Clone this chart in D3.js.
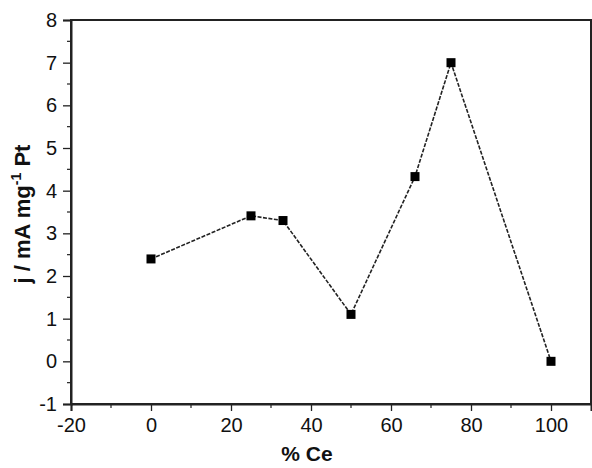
<!DOCTYPE html>
<html><head><meta charset="utf-8">
<script src="https://cdn.jsdelivr.net/npm/d3@7"></script>
<style>body{margin:0;background:#fff}svg{display:block}text{font-family:Arial,"Liberation Sans",sans-serif;fill:#111}</style>
</head><body>
<svg id="c" width="592" height="468"></svg>
<script>
const ceContent = [0, 25, 33, 50, 66, 75, 100];
const currentDensity = [2.4, 3.41, 3.3, 1.1, 4.33, 7.0, 0.0];
const xTicks = [-20, 0, 20, 40, 60, 80, 100];
const yTicks = [-1, 0, 1, 2, 3, 4, 5, 6, 7, 8];

const svg = d3.select("#c");
const L = 71, R = 591, T = 20, B = 404;
const x = d3.scaleLinear().domain([-20, 110]).range([L, R]);
const y = d3.scaleLinear().domain([-1, 8]).range([B, T]);

// frame
svg.append("rect").attr("x", L).attr("y", T).attr("width", R - L).attr("height", B - T)
  .attr("fill", "none").attr("stroke", "#222").attr("stroke-width", 2);

// minor ticks
const xMinor = d3.range(-10, 110, 20);
svg.append("g").selectAll("line").data(xMinor).join("line")
  .attr("x1", d => x(d)).attr("x2", d => x(d)).attr("y1", B).attr("y2", B + 4)
  .attr("stroke", "#222").attr("stroke-width", 1.2);
const yMinor = d3.range(-0.5, 8, 1);
svg.append("g").selectAll("line").data(yMinor).join("line")
  .attr("x1", L - 4).attr("x2", L).attr("y1", d => y(d)).attr("y2", d => y(d))
  .attr("stroke", "#222").attr("stroke-width", 1.2);

// axes
const fmt = d => String(d);
const xAxis = d3.axisBottom(x).tickValues(xTicks).tickSize(7).tickPadding(7).tickFormat(fmt);
const gx = svg.append("g").attr("transform", `translate(0,${B})`).call(xAxis);
const yAxis = d3.axisLeft(y).tickValues(yTicks).tickSize(8).tickPadding(6).tickFormat(fmt);
const gy = svg.append("g").attr("transform", `translate(${L},0)`).call(yAxis);
[gx, gy].forEach(g => {
  g.select(".domain").attr("stroke", "#222").attr("stroke-width", 2);
  g.selectAll(".tick line").attr("stroke", "#222").attr("stroke-width", 1.3);
  g.selectAll(".tick text").style("font-size", "20px").style("font-family", "Arial, 'Liberation Sans', sans-serif").attr("fill", "#111");
});

// line
const line = d3.line().x((d, i) => x(ceContent[i])).y(d => y(d));
svg.append("path").datum(currentDensity).attr("d", line)
  .attr("fill", "none").attr("stroke", "#222").attr("stroke-width", 1.6)
  .attr("stroke-dasharray", "4,1.5");

// markers
const s = 9;
svg.append("g").selectAll("rect").data(currentDensity).join("rect")
  .attr("x", (d, i) => x(ceContent[i]) - s / 2).attr("y", d => y(d) - s / 2)
  .attr("width", s).attr("height", s).attr("fill", "#000");

// titles
svg.append("text").attr("x", 307).attr("y", 461).attr("text-anchor", "middle")
  .style("font-size", "21px").style("font-weight", "bold").text("% Ce");

const yt = svg.append("text").attr("transform", "translate(30,214) rotate(-90)")
  .attr("text-anchor", "middle").style("font-size", "22px").style("font-weight", "bold");
yt.append("tspan").text("j / mA mg");
yt.append("tspan").attr("dy", -9).style("font-size", "14px").text("-1");
yt.append("tspan").attr("dy", 9).text(" Pt");
</script>
</body></html>
